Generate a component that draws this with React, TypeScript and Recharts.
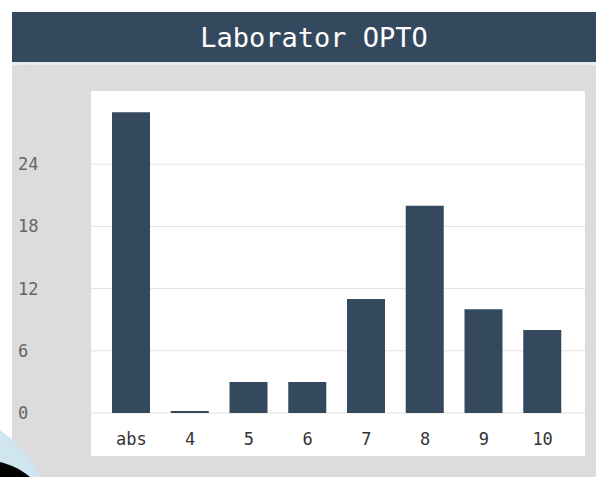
import React from 'react';
import { BarChart, Bar, XAxis, YAxis, CartesianGrid } from 'recharts';

const grades = ['abs', '4', '5', '6', '7', '8', '9', '10'];
const students = [29, 0, 3, 3, 11, 20, 10, 8];
const yTicks = [0, 6, 12, 18, 24];

const data = grades.map((g, i) => ({ grade: g, count: students[i] }));

const FONT = '"DejaVu Sans Mono", monospace';

const YTick = (props: any) => {
  const { y, payload } = props;
  return (
    <text x={18} y={y} dy="0.355em" textAnchor="start" fontFamily={FONT} fontSize={17} fill="#666">
      {payload.value}
    </text>
  );
};

export default function App() {
  return (
    <div style={{ position: 'absolute', left: 0, top: 0, width: 596, height: 477, background: '#fff', overflow: 'hidden' }}>
      <div
        style={{
          position: 'absolute', left: 12, top: 12, width: 584, height: 50,
          background: '#34495e', color: '#fff', fontFamily: FONT, fontSize: 27,
          display: 'flex', alignItems: 'center', justifyContent: 'center', paddingLeft: 20, boxSizing: 'border-box'
        }}
      >
        Laborator OPTO
      </div>
      <div style={{ position: 'absolute', left: 12, top: 62, width: 584, height: 3, background: '#e6edf1' }} />
      <div style={{ position: 'absolute', left: 12, top: 65, width: 584, height: 412, background: '#dcdcdc' }} />
      <div style={{ position: 'absolute', left: 25, top: 65, width: 1, height: 412, background: '#d7d7d7' }} />
      <div style={{ position: 'absolute', left: 91, top: 91, width: 494, height: 365, background: '#fff' }} />
      <svg style={{ position: 'absolute', left: 0, top: 0 }} width={596} height={477}>
        <path d="M0,430 C14,440 28,452 40,477 L0,477 Z" fill="#cfe5ef" />
        <path d="M0,462 C12,465 22,470 30,477 L0,477 Z" fill="#000" />
      </svg>
      <div style={{ position: 'absolute', left: 0, top: 0 }}>
        <BarChart
          width={596}
          height={477}
          data={data}
          margin={{ top: 102, right: 11, bottom: 0, left: 0 }}
          barSize={38}
        >
          <CartesianGrid vertical={false} stroke="#e2e2e2" horizontalValues={yTicks} />
          <XAxis
            dataKey="grade"
            axisLine={false}
            tickLine={false}
            height={64}
            tickMargin={14}
            padding={{ left: 11, right: 13 }}
            interval={0}
            tick={{ fontFamily: FONT, fontSize: 17, fill: '#333' }}
          />
          <YAxis
            width={91}
            domain={[0, 30]}
            ticks={yTicks}
            axisLine={false}
            tickLine={false}
            tick={<YTick />}
          />
          <Bar dataKey="count" fill="#34495e" minPointSize={2} isAnimationActive={false} />
        </BarChart>
      </div>
    </div>
  );
}
